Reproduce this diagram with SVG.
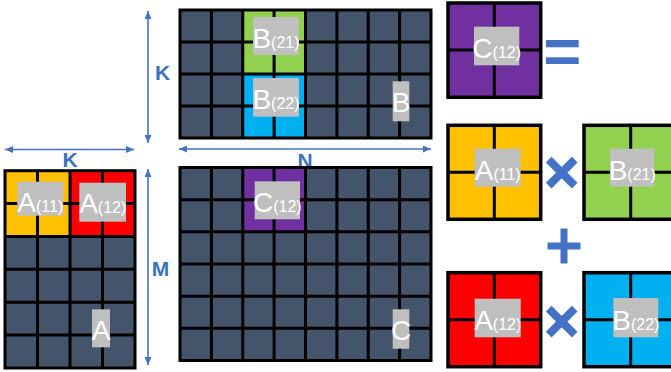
<svg xmlns="http://www.w3.org/2000/svg" width="671" height="372" viewBox="0 0 671 372">
<style>
.cell{fill:#44546A}
.grid{fill:none;stroke:#000;stroke-width:3}
.lbl{fill:#BFBFBF}
.t{font-family:"Liberation Sans",Arial,sans-serif;fill:#fff;text-anchor:middle;font-size:28px}
.s{font-size:16px}
.dim{font-family:"Liberation Sans",Arial,sans-serif;font-weight:bold;font-size:21px;fill:#3A72C0;text-anchor:middle}
.arr{stroke:#4472C4;stroke-width:1.6;fill:none;marker-start:url(#ah);marker-end:url(#ah)}
.op{stroke:#4472C4;fill:none}
</style>
<defs>
<marker id="ah" markerUnits="userSpaceOnUse" markerWidth="8" markerHeight="7" refX="8" refY="3.5" orient="auto-start-reverse">
<path d="M0,0 L8,3.5 L0,7 z" fill="#4472C4"/>
</marker>
</defs>

<g id="connectors">
<line class="arr" x1="148" y1="11" x2="148" y2="143"/>
<line class="arr" x1="148" y1="169" x2="148" y2="365"/>
<line class="arr" x1="5" y1="149.5" x2="134" y2="149.5"/>
<line class="arr" x1="179" y1="149" x2="431" y2="149"/>
</g>

<g id="dim-labels">
<text class="dim" x="162.5" y="79.5">K</text>
<text class="dim" x="70" y="167">K</text>
<text class="dim" x="305" y="167.5">N</text>
<text class="dim" x="160.5" y="275.5">M</text>
</g>

<g id="matrixB">
<rect class="cell" x="180" y="10" width="251" height="128"/>
<rect x="242.75" y="10" width="62.75" height="64" fill="#92D050"/>
<rect x="242.75" y="74" width="62.75" height="64" fill="#00B0F0"/>
<path class="grid" d="M211.4 10V138M242.75 10V138M274.1 10V138M305.5 10V138M336.9 10V138M368.25 10V138M399.6 10V138M180 42H431M180 74H431M180 106H431"/>
<rect class="grid" x="180" y="10" width="251" height="128"/>
<rect class="lbl" x="253" y="17" width="46" height="38"/>
<text class="t" x="276" y="47.5">B<tspan class="s">(21)</tspan></text>
<rect class="lbl" x="253" y="78" width="46" height="38.7"/>
<text class="t" x="276" y="108.5">B<tspan class="s">(22)</tspan></text>
<rect class="lbl" x="392.7" y="81.3" width="16.6" height="40"/>
<text class="t" x="401" y="112">B</text>
</g>

<g id="matrixC">
<rect class="cell" x="180" y="167.5" width="251" height="193"/>
<rect x="242.75" y="167.5" width="62.75" height="64.3" fill="#7030A0"/>
<path class="grid" d="M211.4 167.5V360.5M242.75 167.5V360.5M274.1 167.5V360.5M305.5 167.5V360.5M336.9 167.5V360.5M368.25 167.5V360.5M399.6 167.5V360.5M180 199.7H431M180 231.8H431M180 264H431M180 296.2H431M180 328.3H431"/>
<rect class="grid" x="180" y="167.5" width="251" height="193"/>
<rect class="lbl" x="254.7" y="181.3" width="45.3" height="38"/>
<text class="t" x="277.3" y="211.5">C<tspan class="s">(12)</tspan></text>
<rect class="lbl" x="392.7" y="309.3" width="16.6" height="39.4"/>
<text class="t" x="401" y="340">C</text>
</g>

<g id="matrixA">
<rect class="cell" x="5" y="170.7" width="130" height="197.3"/>
<rect x="5" y="170.7" width="65" height="65.8" fill="#FFC000"/>
<rect x="70" y="170.7" width="65" height="65.8" fill="#FF0000"/>
<path class="grid" d="M37.5 170.7V368M70 170.7V368M102.5 170.7V368M5 203.6H135M5 236.5H135M5 269.3H135M5 302.2H135M5 335.1H135"/>
<rect class="grid" x="5" y="170.7" width="130" height="197.3"/>
<rect class="lbl" x="17.3" y="181.7" width="46" height="34"/>
<text class="t" x="40.3" y="211.5">A<tspan class="s">(11)</tspan></text>
<rect class="lbl" x="79.3" y="182.7" width="46.7" height="39"/>
<text class="t" x="102.7" y="212.5">A<tspan class="s">(12)</tspan></text>
<rect class="lbl" x="92" y="309.3" width="18" height="38"/>
<text class="t" x="101" y="339.5">A</text>
</g>

<g id="blockC12">
<rect x="448" y="3" width="92.7" height="94.3" fill="#7030A0" stroke="#000" stroke-width="3.5"/>
<path class="grid" d="M494.3 3V97.3M448 50H540.7"/>
<rect class="lbl" x="474" y="26.7" width="45.3" height="38.6"/>
<text class="t" x="496.7" y="57.5">C<tspan class="s">(12)</tspan></text>
</g>

<g id="equals">
<rect x="546" y="40" width="32.7" height="7.3" fill="#4472C4"/>
<rect x="546" y="57.3" width="32.7" height="6.7" fill="#4472C4"/>
</g>

<g id="blockA11">
<rect x="448" y="125.3" width="92.7" height="94" fill="#FFC000" stroke="#000" stroke-width="3.5"/>
<path class="grid" d="M494.3 125.3V219.3M448 172.3H540.7"/>
<rect class="lbl" x="474.7" y="148.7" width="46" height="38"/>
<text class="t" x="497.7" y="179.5">A<tspan class="s">(11)</tspan></text>
</g>

<g id="times1">
<path class="op" stroke-width="8" d="M548.7 159.7L574.7 185.7M574.7 159.7L548.7 185.7"/>
</g>

<g id="blockB21">
<rect x="584" y="125.3" width="93" height="94" fill="#92D050" stroke="#000" stroke-width="3.5"/>
<path class="grid" d="M630.7 125.3V219.3M584 172.3H677"/>
<rect class="lbl" x="610" y="148.7" width="44.3" height="38"/>
<text class="t" x="632.2" y="179.5">B<tspan class="s">(21)</tspan></text>
</g>

<g id="plus">
<path class="op" stroke-width="7" d="M547.5 246H580.5M564 228.5V263.5"/>
</g>

<g id="blockA12">
<rect x="448" y="272.7" width="92.7" height="94" fill="#FF0000" stroke="#000" stroke-width="3.5"/>
<path class="grid" d="M494.3 272.7V366.7M448 319.7H540.7"/>
<rect class="lbl" x="474.7" y="298.7" width="46" height="38.6"/>
<text class="t" x="497.7" y="329.5">A<tspan class="s">(12)</tspan></text>
</g>

<g id="times2">
<path class="op" stroke-width="8" d="M548.7 308.7L574.7 334.7M574.7 308.7L548.7 334.7"/>
</g>

<g id="blockB22">
<rect x="584" y="272.7" width="93" height="94" fill="#00B0F0" stroke="#000" stroke-width="3.5"/>
<path class="grid" d="M630.7 272.7V366.7M584 319.7H677"/>
<rect class="lbl" x="613.3" y="298" width="45" height="39.3"/>
<text class="t" x="635.8" y="329.5">B<tspan class="s">(22)</tspan></text>
</g>
</svg>
